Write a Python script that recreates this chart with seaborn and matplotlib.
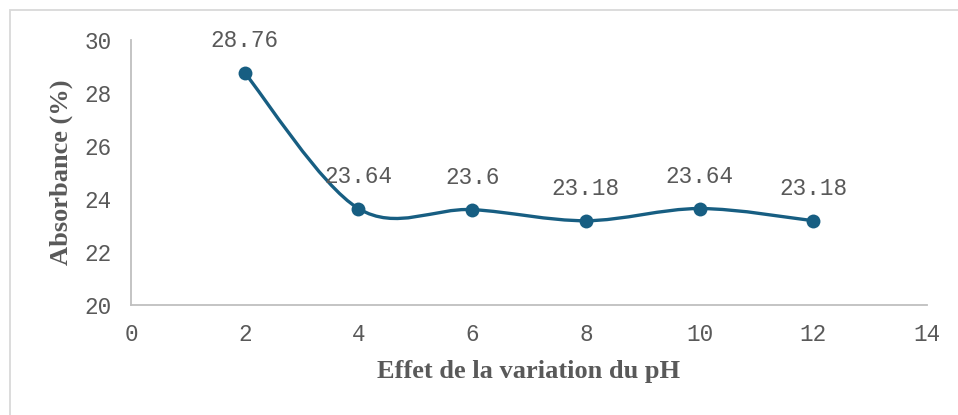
import numpy as np
import matplotlib
matplotlib.use("Agg")
import matplotlib.pyplot as plt
from matplotlib.path import Path
from matplotlib.patches import PathPatch, Rectangle
import pandas as pd
import seaborn as sns

# pH values and measured absorbance
ph = [2, 4, 6, 8, 10, 12]
absorbance = [28.76, 23.64, 23.6, 23.18, 23.64, 23.18]
labels = ["28.76", "23.64", "23.6", "23.18", "23.64", "23.18"]

x_ticks = [0, 2, 4, 6, 8, 10, 12, 14]
y_ticks = [20, 22, 24, 26, 28, 30]

LINE = "#175E82"
TEXT = "#595959"
MONO = "Liberation Mono"
SERIF = "Liberation Serif"

sns.set_theme(style="white")
plt.rcParams["font.family"] = [MONO, "DejaVu Sans"]

fig = plt.figure(figsize=(9.58, 4.15), dpi=100)
ax = fig.add_axes([131 / 958, 1 - 305 / 415, (927 - 131) / 958, (305 - 40) / 415])

# light frame around the chart area
fig.patches.append(Rectangle((10 / 958, -0.05), 1.2, 1 - 10 / 415 + 0.05,
                             transform=fig.transFigure, fill=False,
                             edgecolor="#D9D9D9", linewidth=1.3))

df = pd.DataFrame({"ph": ph, "absorbance": absorbance})

# smoothed connecting curve (Catmull-Rom style cubic Bezier segments)
pts = np.column_stack([df["ph"].to_numpy(float), df["absorbance"].to_numpy(float)])
verts = [tuple(pts[0])]
codes = [Path.MOVETO]
n = len(pts)
for i in range(n - 1):
    p0 = pts[i - 1] if i > 0 else pts[i]
    p1 = pts[i]
    p2 = pts[i + 1]
    p3 = pts[i + 2] if i + 2 < n else pts[i + 1]
    c1 = p1 + (p2 - p0) / 6.0
    c2 = p2 - (p3 - p1) / 6.0
    verts += [tuple(c1), tuple(c2), tuple(p2)]
    codes += [Path.CURVE4] * 3
ax.add_patch(PathPatch(Path(verts, codes), facecolor="none", edgecolor=LINE,
                       linewidth=2.4, capstyle="round", zorder=2))

sns.scatterplot(data=df, x="ph", y="absorbance", ax=ax, color=LINE, s=100,
                edgecolor=LINE, linewidth=0, zorder=3, legend=False)

for xv, yv, lab in zip(ph, absorbance, labels):
    ax.annotate(lab, (xv, yv), xytext=(0, 23), textcoords="offset points",
                ha="center", va="center", fontsize=16.3, color=TEXT,
                fontfamily=MONO)

ax.set_xlim(0, 14)
ax.set_ylim(20, 30)
ax.set_xticks(x_ticks)
ax.set_yticks(y_ticks)
ax.set_xticklabels([str(t) for t in x_ticks])
ax.set_yticklabels([str(t) for t in y_ticks])
ax.tick_params(axis="both", length=0, labelsize=16.3, labelcolor=TEXT)
ax.tick_params(axis="y", pad=14)
ax.tick_params(axis="x", pad=13)

for side in ["top", "right"]:
    ax.spines[side].set_visible(False)
for side in ["left", "bottom"]:
    ax.spines[side].set_color("#BFBFBF")
    ax.spines[side].set_linewidth(1.3)

ax.set_xlabel("Effet de la variation du pH", fontfamily=SERIF, fontweight="bold",
              fontsize=19, color=TEXT, labelpad=10)
ax.set_ylabel("Absorbance (%)", fontfamily=SERIF, fontweight="bold",
              fontsize=19, color=TEXT, labelpad=8)

fig.savefig("out.png", dpi=100, facecolor="white")
